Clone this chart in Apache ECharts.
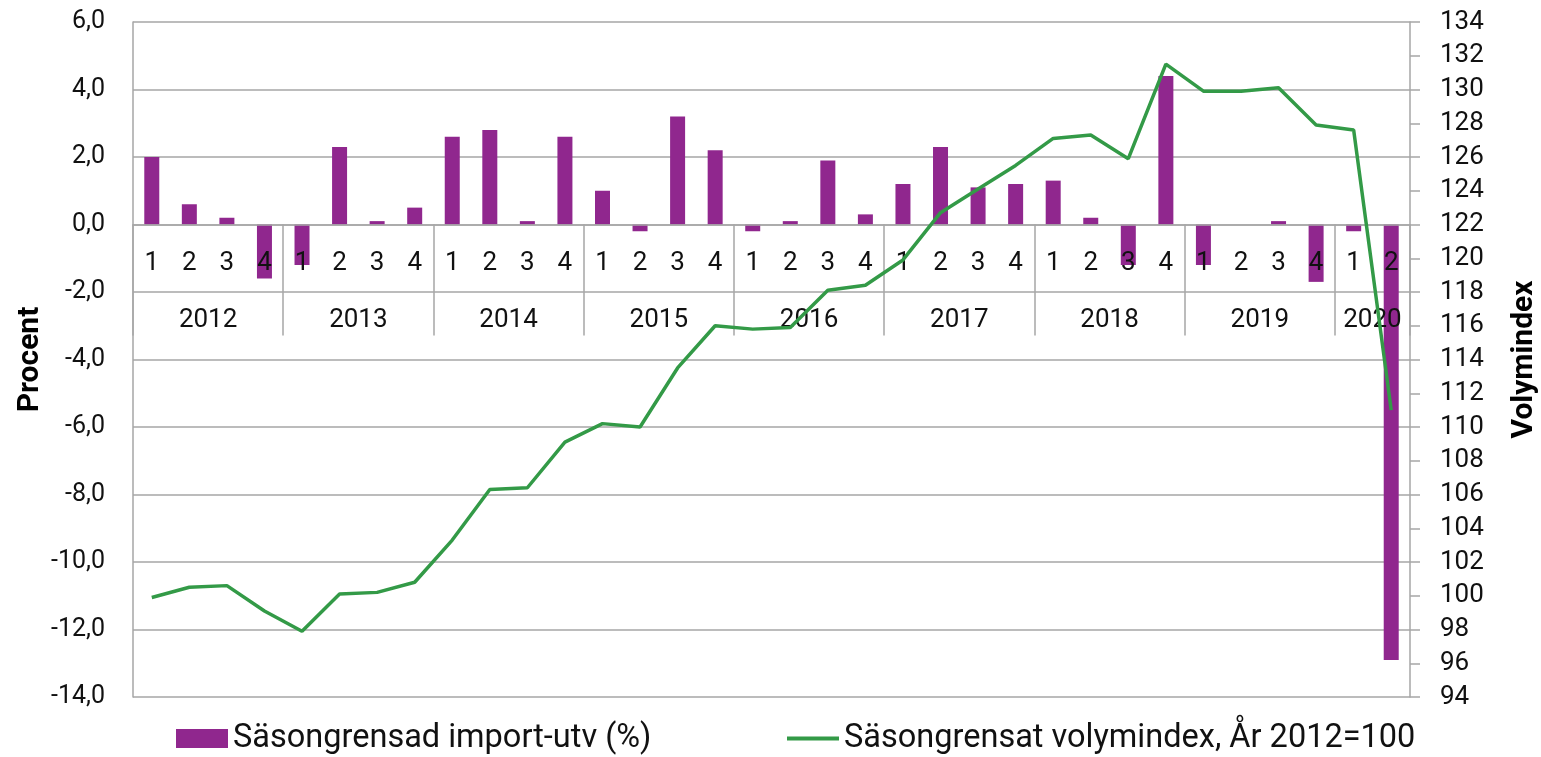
<!DOCTYPE html>
<html>
<head>
<meta charset="utf-8">
<script src="https://cdn.jsdelivr.net/npm/echarts@6/dist/echarts.min.js"></script>
<style>
html,body{margin:0;padding:0;background:#fff;}
#chart{width:1541px;height:757px;}
</style>
</head>
<body>
<div id="chart"></div>
<script>
// ---- data ----
const years = ['2012','2013','2014','2015','2016','2017','2018','2019','2020'];
const quartersPerYear = [4,4,4,4,4,4,4,4,2];
const importGrowth = [2.0,0.6,0.2,-1.6, -1.2,2.3,0.1,0.5, 2.6,2.8,0.1,2.6, 1.0,-0.2,3.2,2.2,
  -0.2,0.1,1.9,0.3, 1.2,2.3,1.1,1.2, 1.3,0.2,-1.2,4.4, -1.2,0.0,0.1,-1.7, -0.2,-12.9];
const volumeIndex = [99.9,100.5,100.6,99.1, 97.9,100.1,100.2,100.8, 103.3,106.3,106.4,109.1,
  110.2,110.0,113.5,116.0, 115.8,115.9,118.1,118.4, 119.9,122.7,124.1,125.5,
  127.1,127.3,125.9,131.5, 129.9,129.9,130.1,127.9, 127.6,111.0];
const seriesNames = ['Säsongrensad import-utv (%)', 'Säsongrensat volymindex, År 2012=100'];
const leftTicks = {min:-14, max:6, interval:2};
const rightTicks = {min:94, max:134, interval:2};

// ---- derived axis categories ----
const quarterCats = [];
years.forEach((y,i)=>{ for(let q=1;q<=quartersPerYear[i];q++) quarterCats.push(String(q)); });
const nHalf = quarterCats.length*2;
const halfCats = [];
const yearLabelAt = {};
const sepAt = {};
let start = 0;
years.forEach((y,i)=>{
  sepAt[start*2] = true;
  yearLabelAt[start*2 + quartersPerYear[i]] = y;
  start += quartersPerYear[i];
});
sepAt[start*2] = true;
for(let k=0;k<=nHalf;k++) halfCats.push(yearLabelAt[k] || '');

const gridTop = 22, gridBottom = 60, chartH = 757;
const plotH = chartH - gridTop - gridBottom;
// distance from the bottom of the plot up to the value 0 on the left axis
const zeroOffset = -plotH * (0 - leftTicks.min) / (leftTicks.max - leftTicks.min);

const gray = '#a6a6a6';
const chart = echarts.init(document.getElementById('chart'));
chart.setOption({
  animation:false,
  textStyle:{fontFamily:'Roboto'},
  grid:{left:133, right:131, top:gridTop, bottom:gridBottom, containLabel:false, outerBoundsMode:'none'},
  legend:[
    {data:[seriesNames[0]], left:176, top:722, padding:0, itemWidth:52, itemHeight:19, icon:'rect',
     textStyle:{fontSize:32.5, color:'#111', fontFamily:'Roboto'}},
    {data:[seriesNames[1]], left:787, top:722, padding:0, itemWidth:52, itemHeight:4, icon:'rect',
     textStyle:{fontSize:32.5, color:'#111', fontFamily:'Roboto'}}
  ],
  xAxis:[
    {type:'category', data:quarterCats, boundaryGap:true, position:'bottom', offset:zeroOffset, z:3,
     axisLine:{onZero:false, lineStyle:{color:gray, width:1.5}},
     axisTick:{show:false},
     axisLabel:{interval:0, margin:26, fontSize:26, color:'#111', fontFamily:'Roboto'},
     splitLine:{show:false}},
    {type:'category', data:halfCats, boundaryGap:false, position:'bottom', offset:zeroOffset, z:3,
     axisLine:{show:false, onZero:false},
     axisTick:{show:true, length:111, interval:(i)=>!!sepAt[i], lineStyle:{color:gray, width:1.5}},
     axisLabel:{interval:0, margin:83, fontSize:26, color:'#111', fontFamily:'Roboto'},
     splitLine:{show:false}}
  ],
  yAxis:[
    {type:'value', min:leftTicks.min, max:leftTicks.max, interval:leftTicks.interval,
     name:'Procent', nameLocation:'middle', nameGap:88, nameRotate:90, nameMoveOverlap:false,
     nameTextStyle:{fontSize:30, fontWeight:'bold', color:'#000', fontFamily:'Roboto'},
     axisLine:{show:true, lineStyle:{color:gray, width:1.5}},
     axisTick:{show:false},
     axisLabel:{margin:28, fontSize:25, color:'#111', fontFamily:'Roboto',
       formatter:(v)=>v.toFixed(1).replace('.', ',')},
     splitLine:{show:true, lineStyle:{color:gray, width:1.5}}},
    {type:'value', min:rightTicks.min, max:rightTicks.max, interval:rightTicks.interval, position:'right',
     name:'Volymindex', nameLocation:'middle', nameGap:99, nameRotate:90,
     nameTextStyle:{fontSize:30, fontWeight:'bold', color:'#000', fontFamily:'Roboto'},
     axisLine:{show:true, lineStyle:{color:gray, width:1.5}},
     axisTick:{show:true, length:10, lineStyle:{color:gray, width:1.5}},
     axisLabel:{margin:30, fontSize:26, color:'#111', fontFamily:'Roboto'},
     splitLine:{show:false}}
  ],
  series:[
    {name:seriesNames[0], type:'bar', data:importGrowth, xAxisIndex:0, yAxisIndex:0,
     barWidth:15, z:2, itemStyle:{color:'#90278e'}},
    {name:seriesNames[1], type:'line', data:volumeIndex, xAxisIndex:0, yAxisIndex:1,
     showSymbol:false, symbol:'none', lineStyle:{color:'#339a47', width:3.5}, itemStyle:{color:'#339a47'}, z:5}
  ]
});
</script>
</body>
</html>
